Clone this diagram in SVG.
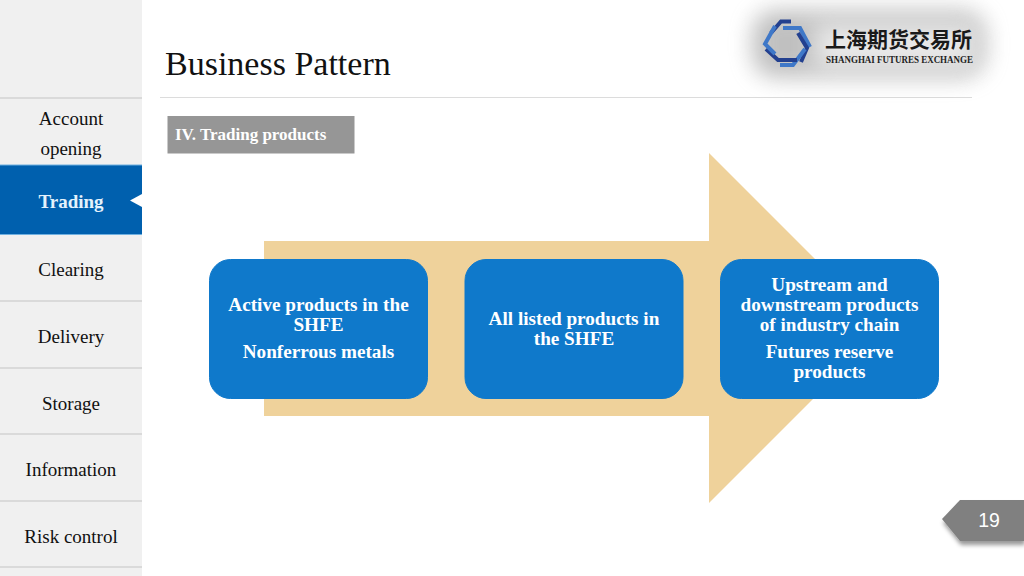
<svg xmlns="http://www.w3.org/2000/svg" width="1024" height="576" viewBox="0 0 1024 576">
<style>
text{font-family:"Liberation Serif","Noto Sans CJK SC",serif}
.nav{font-size:19px;fill:#111;text-anchor:middle}
.sep{stroke:#d2d2d2;stroke-width:1.5}
.box{fill:#0f79cb;stroke:#0f79cb}
.bt{font-size:19.200px;font-weight:bold;fill:#fff;text-anchor:middle}
.dk{fill:none;stroke:#23408f;stroke-width:4}
.lt{fill:none;stroke:#3f78c8;stroke-width:4}
</style>
<defs>
<filter id="blur" x="-30%" y="-50%" width="160%" height="200%"><feGaussianBlur stdDeviation="11"/></filter>
<filter id="sh" x="-30%" y="-30%" width="160%" height="170%"><feDropShadow dx="1" dy="4" stdDeviation="2" flood-color="#000" flood-opacity=".4"/></filter>
</defs>
<rect width="1024" height="576" fill="#fff"/>
<g id="sidebar">
<rect width="142" height="576" fill="#f0f0f0"/>
<path class="sep" d="M0 98H142M0 301H142M0 368H142M0 434H142M0 501H142M0 567H142"/>
<rect y="165" width="142" height="70" fill="#0060ae"/>
<path d="M0 165H142M0 234.500H142" stroke="#6fb0e0" stroke-width="1"/>
<path d="M142 194L130 200.500L142 207Z" fill="#fff"/>
</g>
<g id="nav-account"><text class="nav" x="71" y="125">Account</text><text class="nav" x="71" y="155">opening</text></g>
<g id="nav-trading"><text class="nav" x="71" y="208" style="fill:#e4f2fc;font-weight:bold">Trading</text></g>
<g id="nav-clearing"><text class="nav" x="71" y="276">Clearing</text></g>
<g id="nav-delivery"><text class="nav" x="71" y="343">Delivery</text></g>
<g id="nav-storage"><text class="nav" x="71" y="409.500">Storage</text></g>
<g id="nav-information"><text class="nav" x="71" y="476">Information</text></g>
<g id="nav-risk"><text class="nav" x="71" y="543">Risk control</text></g>
<g id="title"><text x="165" y="75" font-size="34" fill="#111">Business Pattern</text>
<path d="M160 97.500H972" stroke="#dcdcdc" stroke-width="1"/></g>
<g id="logo">
<rect x="752" y="10" width="234" height="68" rx="24" fill="#8e8e8e" opacity=".55" filter="url(#blur)"/>
<rect x="815" y="24" width="160" height="44" fill="#fafafa" opacity=".7" filter="url(#blur)"/>
<path class="dk" d="M771 33L781 21.500H791"/>
<path class="lt" d="M783 28H800L810 47"/>
<path class="dk" d="M798 33L807 48L801 62"/>
<path class="lt" d="M805 49L793 65H780"/>
<path class="dk" d="M797 60H778L766 49"/>
<path class="lt" d="M775 54L765 44L775 26"/>
<text x="825" y="47" font-size="21" font-weight="bold" fill="#1a1a1a" textLength="147" lengthAdjust="spacingAndGlyphs">上海期货交易所</text>
<text x="826" y="63" font-size="10.500" font-weight="bold" fill="#222" textLength="147" lengthAdjust="spacingAndGlyphs">SHANGHAI FUTURES EXCHANGE</text>
</g>
<g id="section-label">
<rect x="167.500" y="116" width="187" height="37.500" fill="#969696"/>
<text x="175" y="140" font-size="17" font-weight="bold" fill="#fff">IV. Trading products</text>
</g>
<g id="arrow">
<path d="M264 241H709V153L884 328L709 503V416H264Z" fill="#efd29b"/>
</g>
<g id="node-active">
<rect class="box" x="209.500" y="259.500" width="218" height="139" rx="21"/>
<text class="bt" x="318.500" y="311">Active products in the</text>
<text class="bt" x="318.500" y="331">SHFE</text>
<text class="bt" x="318.500" y="358">Nonferrous metals</text>
</g>
<g id="node-listed">
<rect class="box" x="465" y="259.500" width="218" height="139" rx="21"/>
<text class="bt" x="574" y="324.500">All listed products in</text>
<text class="bt" x="574" y="344.500">the SHFE</text>
</g>
<g id="node-upstream">
<rect class="box" x="720.500" y="259.500" width="218" height="139" rx="21"/>
<text class="bt" x="829.500" y="291">Upstream and</text>
<text class="bt" x="829.500" y="311">downstream products</text>
<text class="bt" x="829.500" y="331">of industry chain</text>
<text class="bt" x="829.500" y="358">Futures reserve</text>
<text class="bt" x="829.500" y="378">products</text>
</g>
<g id="page-number">
<path d="M1024 500H960L942 519L960 541H1024Z" fill="#808080" filter="url(#sh)"/>
<text x="989" y="527" font-size="19.500" fill="#fff" text-anchor="middle" style="font-family:'Liberation Sans',sans-serif">19</text>
</g>
</svg>
